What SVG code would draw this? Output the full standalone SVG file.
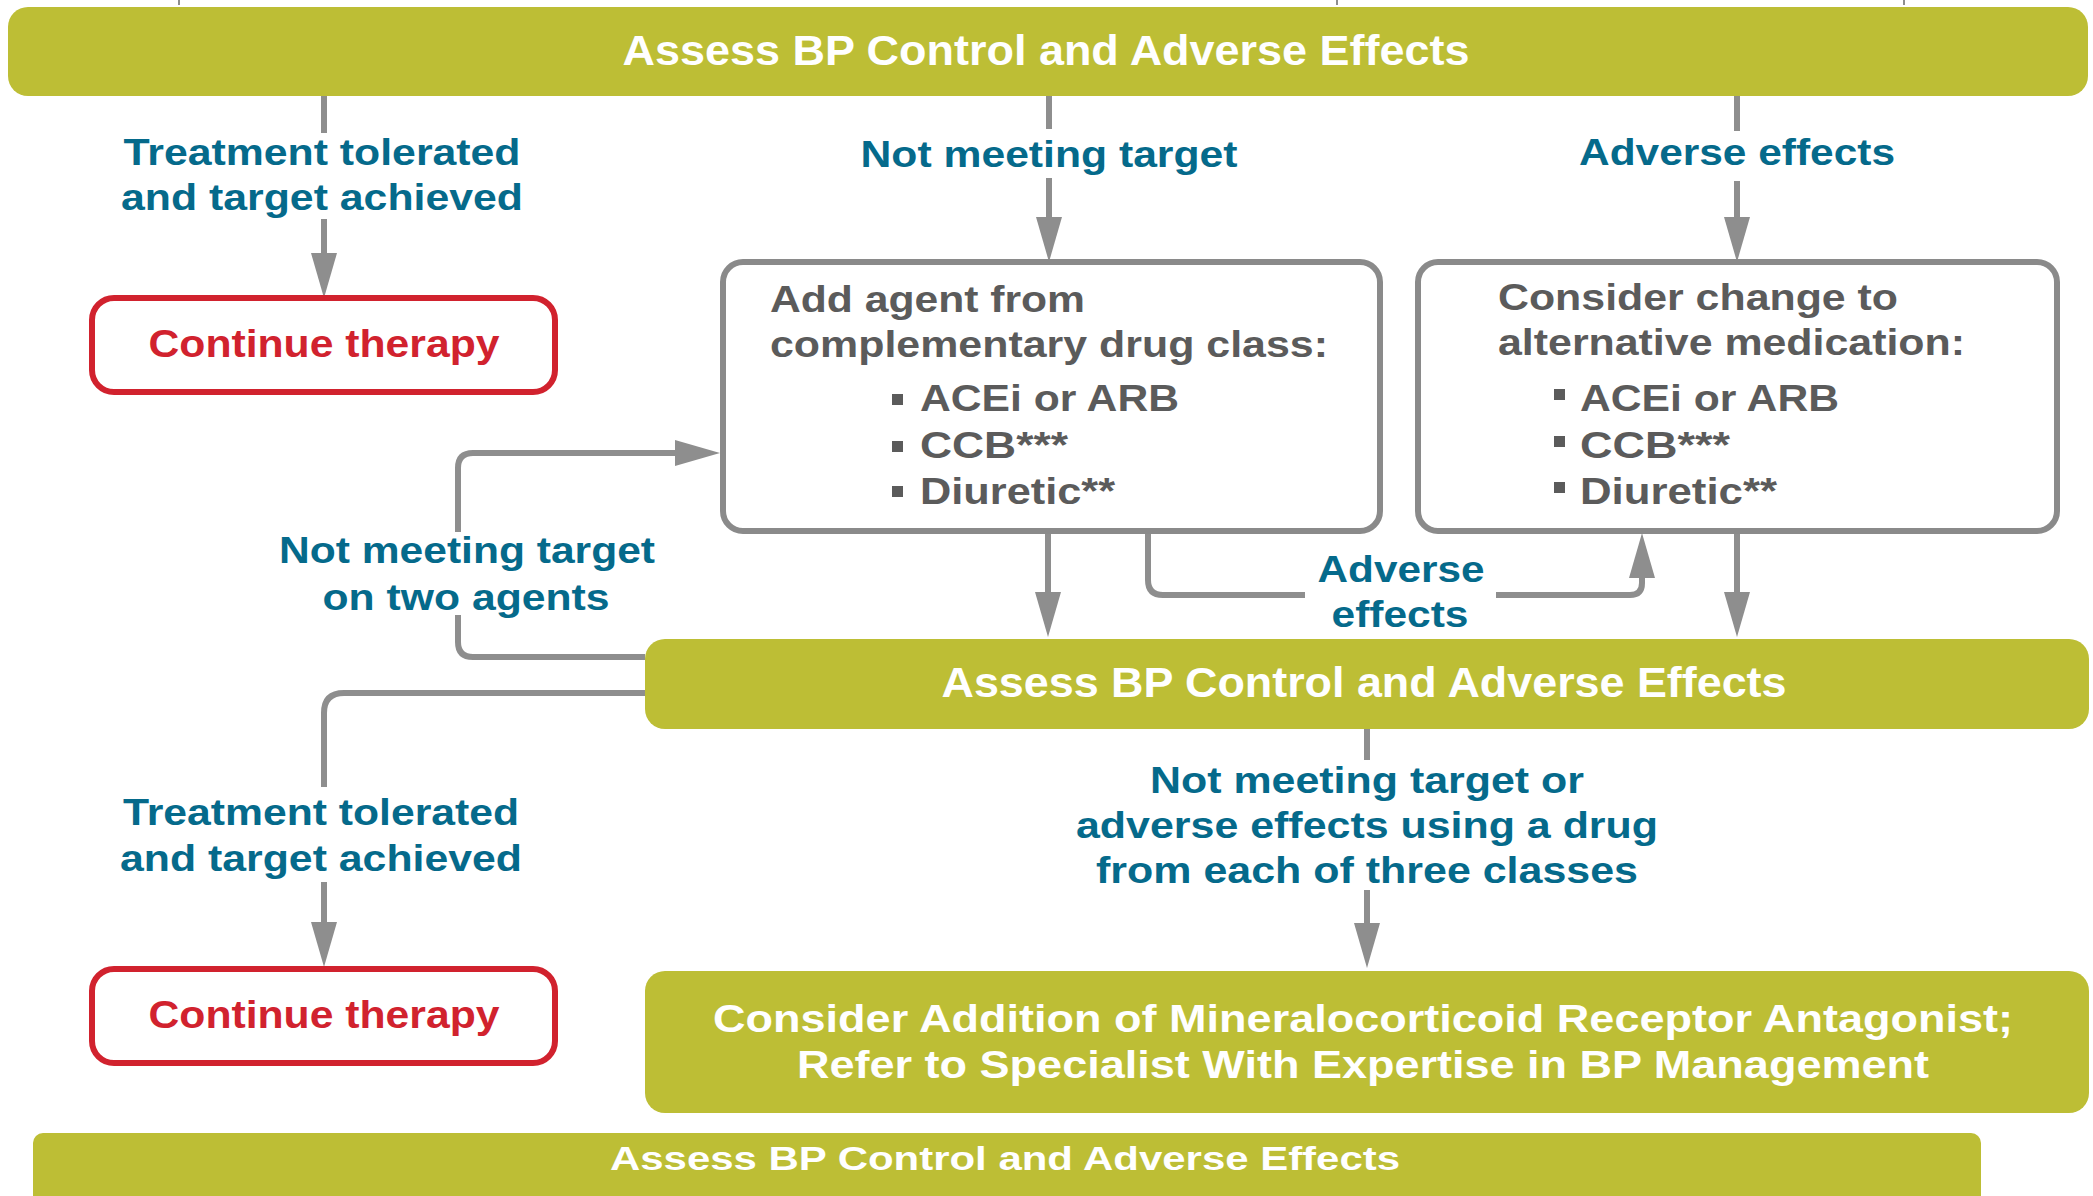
<svg xmlns="http://www.w3.org/2000/svg" width="2093" height="1196" viewBox="0 0 2093 1196">
  <style>
    text { font-family: "Liberation Sans", Arial, sans-serif; font-weight: bold; }
    .bar { fill: #bdbe35; }
    .bartxt { fill: #ffffff; font-size: 42px; text-anchor: middle; }
    .lbl { fill: #056a8b; font-size: 36px; text-anchor: middle; }
    .box { fill: #ffffff; stroke: #8a8a8a; stroke-width: 6; }
    .boxtxt { fill: #5b5b5b; font-size: 36px; }
    .cont { fill: #ffffff; stroke: #d1222e; stroke-width: 6; }
    .conttxt { fill: #d1222e; font-size: 38px; text-anchor: middle; }
    .bullet { fill: #5b5b5b; }
    .wire { fill: none; stroke: #8e8e8e; stroke-width: 6; }
    .tick { fill: none; stroke: #8e8e8e; stroke-width: 2; }
  </style>
  <defs>
    <marker id="ah" markerUnits="userSpaceOnUse" markerWidth="46" markerHeight="28" viewBox="0 0 46 28" refX="1" refY="14" orient="auto">
      <path d="M0,1 L45,14 L0,27 Z" fill="#8e8e8e"/>
    </marker>
  </defs>
  <rect width="2093" height="1196" fill="#ffffff"/>

  <!-- connectors -->
  <g id="connectors">
    <path class="tick" d="M179,0 V5 M1337,0 V5 M1904,0 V5"/>
    <path class="wire" d="M324,96 V133"/>
    <path class="wire" d="M324,219 V254" marker-end="url(#ah)"/>
    <path class="wire" d="M1049,96 V129"/>
    <path class="wire" d="M1049,178 V218" marker-end="url(#ah)"/>
    <path class="wire" d="M1737,96 V131"/>
    <path class="wire" d="M1737,181 V218" marker-end="url(#ah)"/>
    <path class="wire" d="M1048,531 V593" marker-end="url(#ah)"/>
    <path class="wire" d="M1737,531 V593" marker-end="url(#ah)"/>
    <path class="wire" d="M1148,531 V580 Q1148,595 1163,595 H1305"/>
    <path class="wire" d="M1496,595 H1630 Q1642,595 1642,583 V577" marker-end="url(#ah)"/>
    <path class="wire" d="M645,657 H473 Q458,657 458,642 V615"/>
    <path class="wire" d="M458,532 V468 Q458,453 473,453 H676" marker-end="url(#ah)"/>
    <path class="wire" d="M645,693 H344 Q324,693 324,713 V787"/>
    <path class="wire" d="M324,882 V923" marker-end="url(#ah)"/>
    <path class="wire" d="M1367,729 V760"/>
    <path class="wire" d="M1367,890 V924" marker-end="url(#ah)"/>
  </g>

  <!-- connector labels -->
  <g id="labels">
    <text class="lbl" x="322" y="165" textLength="397" lengthAdjust="spacingAndGlyphs">Treatment tolerated</text>
    <text class="lbl" x="322" y="210" textLength="402" lengthAdjust="spacingAndGlyphs">and target achieved</text>
    <text class="lbl" x="1049" y="167" textLength="377" lengthAdjust="spacingAndGlyphs">Not meeting target</text>
    <text class="lbl" x="1737" y="165" textLength="316" lengthAdjust="spacingAndGlyphs">Adverse effects</text>
    <text class="lbl" x="467" y="563" textLength="376" lengthAdjust="spacingAndGlyphs">Not meeting target</text>
    <text class="lbl" x="466" y="610" textLength="287" lengthAdjust="spacingAndGlyphs">on two agents</text>
    <text class="lbl" x="1401" y="582" textLength="167" lengthAdjust="spacingAndGlyphs">Adverse</text>
    <text class="lbl" x="1400" y="627" textLength="137" lengthAdjust="spacingAndGlyphs">effects</text>
    <text class="lbl" x="321" y="825" textLength="396" lengthAdjust="spacingAndGlyphs">Treatment tolerated</text>
    <text class="lbl" x="321" y="871" textLength="402" lengthAdjust="spacingAndGlyphs">and target achieved</text>
    <text class="lbl" x="1367" y="793" textLength="434" lengthAdjust="spacingAndGlyphs">Not meeting target or</text>
    <text class="lbl" x="1367" y="838" textLength="582" lengthAdjust="spacingAndGlyphs">adverse effects using a drug</text>
    <text class="lbl" x="1367" y="883" textLength="542" lengthAdjust="spacingAndGlyphs">from each of three classes</text>
  </g>

  <g id="assess-top">
    <rect class="bar" x="8" y="7" width="2080" height="89" rx="20"/>
    <text class="bartxt" x="1046" y="65" textLength="847" lengthAdjust="spacingAndGlyphs">Assess BP Control and Adverse Effects</text>
  </g>

  <g id="continue-1">
    <rect class="cont" x="92" y="298" width="463" height="94" rx="22"/>
    <text class="conttxt" x="324" y="357" textLength="351" lengthAdjust="spacingAndGlyphs">Continue therapy</text>
  </g>

  <g id="add-agent">
    <rect class="box" x="723" y="262" width="657" height="269" rx="20"/>
    <text class="boxtxt" x="770" y="312" textLength="315" lengthAdjust="spacingAndGlyphs">Add agent from</text>
    <text class="boxtxt" x="770" y="357" textLength="558" lengthAdjust="spacingAndGlyphs">complementary drug class:</text>
    <rect class="bullet" x="892" y="394" width="11" height="11"/>
    <text class="boxtxt" x="920" y="411" textLength="259" lengthAdjust="spacingAndGlyphs">ACEi or ARB</text>
    <rect class="bullet" x="892" y="441" width="11" height="11"/>
    <text class="boxtxt" x="920" y="458" textLength="148" lengthAdjust="spacingAndGlyphs">CCB***</text>
    <rect class="bullet" x="892" y="486" width="11" height="11"/>
    <text class="boxtxt" x="920" y="504" textLength="195" lengthAdjust="spacingAndGlyphs">Diuretic**</text>
  </g>

  <g id="change-medication">
    <rect class="box" x="1418" y="262" width="639" height="269" rx="20"/>
    <text class="boxtxt" x="1498" y="310" textLength="400" lengthAdjust="spacingAndGlyphs">Consider change to</text>
    <text class="boxtxt" x="1498" y="355" textLength="467" lengthAdjust="spacingAndGlyphs">alternative medication:</text>
    <rect class="bullet" x="1554" y="389" width="11" height="11"/>
    <text class="boxtxt" x="1580" y="411" textLength="259" lengthAdjust="spacingAndGlyphs">ACEi or ARB</text>
    <rect class="bullet" x="1554" y="436" width="11" height="11"/>
    <text class="boxtxt" x="1580" y="458" textLength="150" lengthAdjust="spacingAndGlyphs">CCB***</text>
    <rect class="bullet" x="1554" y="482" width="11" height="11"/>
    <text class="boxtxt" x="1580" y="504" textLength="197" lengthAdjust="spacingAndGlyphs">Diuretic**</text>
  </g>

  <g id="assess-middle">
    <rect class="bar" x="645" y="639" width="1444" height="90" rx="20"/>
    <text class="bartxt" x="1364" y="697" textLength="845" lengthAdjust="spacingAndGlyphs">Assess BP Control and Adverse Effects</text>
  </g>

  <g id="continue-2">
    <rect class="cont" x="92" y="969" width="463" height="94" rx="22"/>
    <text class="conttxt" x="324" y="1028" textLength="351" lengthAdjust="spacingAndGlyphs">Continue therapy</text>
  </g>

  <g id="mra-referral">
    <rect class="bar" x="645" y="971" width="1444" height="142" rx="20"/>
    <text class="bartxt" x="1363" y="1032" style="font-size:39px" textLength="1300" lengthAdjust="spacingAndGlyphs">Consider Addition of Mineralocorticoid Receptor Antagonist;</text>
    <text class="bartxt" x="1363" y="1078" style="font-size:39px" textLength="1132" lengthAdjust="spacingAndGlyphs">Refer to Specialist With Expertise in BP Management</text>
  </g>

  <g id="assess-bottom">
    <rect class="bar" x="33" y="1133" width="1948" height="90" rx="10"/>
    <text class="bartxt" x="1005" y="1170" style="font-size:34px" textLength="790" lengthAdjust="spacingAndGlyphs">Assess BP Control and Adverse Effects</text>
  </g>
</svg>
